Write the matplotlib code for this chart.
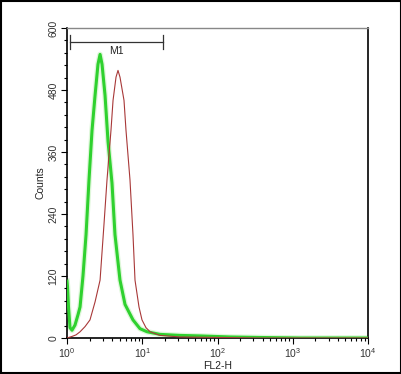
import numpy as np
import matplotlib.pyplot as plt
from matplotlib.ticker import MultipleLocator, LogLocator, NullFormatter

plt.rcParams['font.family'] = ['Liberation Sans', 'DejaVu Sans']
plt.rcParams['mathtext.fontset'] = 'custom'
plt.rcParams['mathtext.rm'] = 'Liberation Sans'
plt.rcParams['mathtext.it'] = 'Liberation Sans'

# Green histogram (FL2-H value, counts)
green_x = [1.0, 1.015, 1.047, 1.096, 1.165, 1.277, 1.40, 1.49, 1.63, 1.79, 1.96, 2.15,
           2.36, 2.58, 2.75, 2.92, 3.20, 3.51, 3.96, 4.34, 5.06, 5.90, 7.53, 9.33,
           11.6, 17.2, 31.7, 58.5, 147, 367, 1250, 10000]
green_y = [110, 100, 60, 20, 15, 25, 45, 60, 120, 200, 306, 402,
           470, 530, 549, 530, 470, 380, 300, 200, 112, 65, 35, 18,
           12, 7, 5, 4, 2, 1, 0, 0]

# Red histogram
red_x = [1.0, 1.165, 1.317, 1.49, 1.735, 2.02, 2.36, 2.75, 3.10, 3.40, 3.84, 4.09,
         4.48, 4.76, 5.06, 5.72, 6.08, 6.87, 7.53, 8.01, 9.05, 9.92, 11.2, 12.7,
         17.2, 31.7, 108, 367, 10000]
red_y = [0, 3, 6, 12, 22, 35, 70, 112, 220, 306, 402, 460,
         505, 518, 505, 460, 402, 306, 200, 112, 60, 35, 20, 12,
         5, 2, 1, 0, 0]

# M1 gate marker
m1_range = [1.1, 19.0]
m1_level = 573

fig = plt.figure(figsize=(4.02, 3.74), dpi=100)
ax = fig.add_axes([0.1667, 0.0963, 0.7487, 0.8287])

# soft glow under the green line
ax.plot(green_x, green_y, color='#c8f2c0', lw=4, alpha=0.6, zorder=2)
ax.plot(green_x, green_y, color='#2fd12f', lw=2.2, zorder=3)
ax.plot(red_x, red_y, color='#a83838', lw=0.8, zorder=4)

# M1 marker
ax.plot(m1_range, [m1_level, m1_level], color='#333333', lw=0.9)
for xv in m1_range:
    ax.plot([xv, xv], [m1_level - 14, m1_level + 14], color='#333333', lw=0.9)
ax.text(np.sqrt(m1_range[0] * m1_range[1]), m1_level - 8, 'M1', ha='center', va='top',
        fontsize=7.5, color='#222222')

ax.set_xscale('log')
ax.set_xlim(1, 10000)
ax.set_ylim(0, 600)
ax.yaxis.set_major_locator(MultipleLocator(120))
ax.yaxis.set_minor_locator(MultipleLocator(24))
ax.xaxis.set_major_locator(LogLocator(base=10))
ax.xaxis.set_minor_locator(LogLocator(base=10, subs=np.arange(2, 10)))
ax.xaxis.set_minor_formatter(NullFormatter())
ax.tick_params(axis='both', which='major', direction='out', length=4, width=0.8,
               labelsize=7.5, pad=2, labelcolor='#333333')
ax.tick_params(axis='both', which='minor', direction='out', length=2, width=0.8)
for lab in ax.get_yticklabels():
    lab.set_rotation(90)
    lab.set_va('center')
ax.set_xlabel('FL2-H', fontsize=7.5, labelpad=0, color='#222222')
ax.set_ylabel('Counts', fontsize=7.5, labelpad=2, color='#222222')
ax.xaxis.set_label_coords(0.5, -0.075)

for s in ['left', 'bottom', 'right']:
    ax.spines[s].set_color('black')
    ax.spines[s].set_linewidth(1.2)
ax.spines['top'].set_color('#888888')
ax.spines['top'].set_linewidth(1.0)

# outer frame
fig.patches.append(plt.Rectangle((0.002, 0.002), 0.996, 0.996, transform=fig.transFigure,
                                 fill=False, edgecolor='black', lw=1.5))

fig.savefig('out.png', dpi=100)
